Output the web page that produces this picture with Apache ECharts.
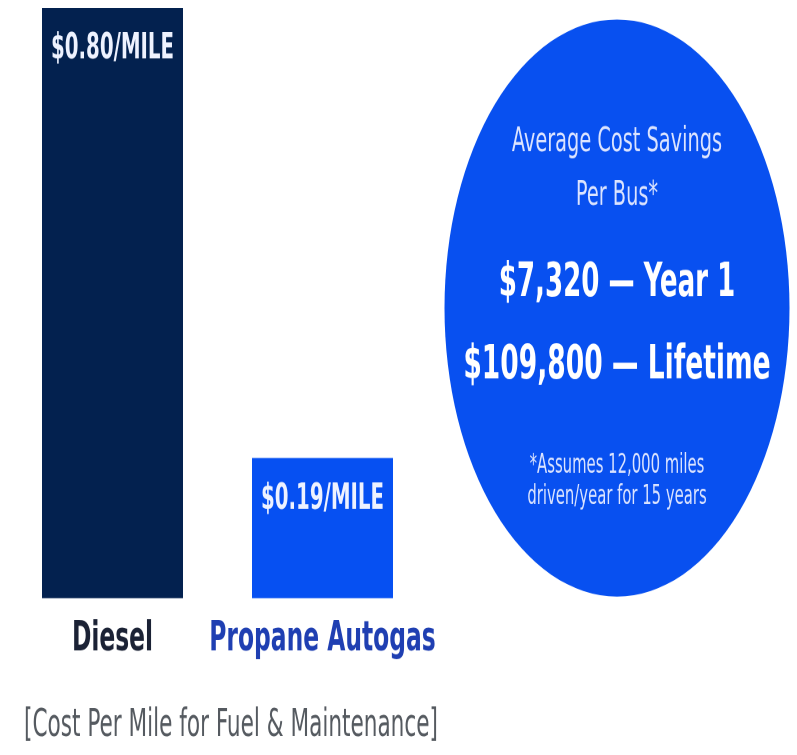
<!DOCTYPE html>
<html>
<head>
<meta charset="utf-8">
<script src="https://cdn.jsdelivr.net/npm/echarts@6/dist/echarts.min.js"></script>
<style>
html,body{margin:0;padding:0;background:#fff;overflow:hidden;}
#stage{width:797px;height:755px;overflow:hidden;}
/* the reference artwork is vertically stretched; draw in a shorter box and stretch it */
#chart{width:797px;height:471.875px;transform:scaleY(1.6);transform-origin:0 0;}
</style>
</head>
<body>
<div id="stage"><div id="chart"></div></div>
<script>
// ---- data ----
const categories = ['Diesel', 'Propane Autogas'];
const costPerMile = [0.80, 0.19];
const barColors = ['#03214f', '#0650f2'];
const categoryColors = ['#1b2235', '#1f3fb2'];
const subtitle = '[Cost Per Mile for Fuel & Maintenance]';
const savingsHeading = ['Average Cost Savings', 'Per Bus*'];
const savingsYear1 = '$7,320 \u2014 Year 1';
const savingsLifetime = '$109,800 \u2014 Lifetime';
const footnote = ['*Assumes 12,000 miles', 'driven/year for 15 years'];

const FONT = '"DejaVu Sans Condensed", "Liberation Sans Narrow", "Roboto", sans-serif';
const S = 1.6; // vertical stretch applied by CSS

const chart = echarts.init(document.getElementById('chart'), null, {renderer: 'canvas', devicePixelRatio: 2});

const circleCX = 617, circleCY = 308 / S, rx = 172.5, ry = 288.5 / S;
const lightText = '#dce4ff';

function txt(str, x, y, font, fill) {
  return {
    type: 'text', x: x, y: y / S, z: 2,
    style: {text: str, fill: fill, font: font, textAlign: 'center', textVerticalAlign: 'middle'}
  };
}

const option = {
  animation: false,
  backgroundColor: '#ffffff',
  grid: {left: 7.5, width: 420, top: 8 / S, bottom: 157 / S, containLabel: false},
  xAxis: {
    type: 'category',
    data: categories.map((c, i) => ({value: c, textStyle: {color: categoryColors[i]}})),
    axisLine: {show: false},
    axisTick: {show: false},
    axisLabel: {
      fontFamily: FONT,
      fontSize: 26,
      lineHeight: 26,
      fontWeight: 'bold',
      margin: 13,
      interval: 0
    }
  },
  yAxis: {
    type: 'value',
    min: 0,
    max: 0.8,
    show: false,
    splitLine: {show: false}
  },
  series: [{
    type: 'bar',
    barWidth: 141,
    data: costPerMile.map((v, i) => ({value: v, itemStyle: {color: barColors[i]}})),
    label: {
      show: true,
      position: 'insideTop',
      distance: 15,
      formatter: p => '$' + p.value.toFixed(2) + '/MILE',
      color: '#eef2ff',
      fontFamily: FONT,
      fontSize: 22,
      fontWeight: 'bold',
      lineHeight: 22
    }
  }],
  graphic: [
    {
      type: 'circle',
      x: circleCX, y: circleCY,
      scaleX: 1, scaleY: ry / rx,
      shape: {cx: 0, cy: 0, r: rx},
      style: {fill: '#0850f0'},
      z: 1
    },
    txt(savingsHeading[0], circleCX, 142, '21.5px ' + FONT, lightText),
    txt(savingsHeading[1], circleCX, 196, '21.5px ' + FONT, lightText),
    txt(savingsYear1, circleCX, 284, 'bold 29px ' + FONT, '#ffffff'),
    txt(savingsLifetime, circleCX, 366, 'bold 29.5px ' + FONT, '#ffffff'),
    txt(footnote[0], circleCX, 466, '16.5px ' + FONT, lightText),
    txt(footnote[1], circleCX, 497, '16.5px ' + FONT, lightText),
    txt(subtitle, 231, 726, '24px ' + FONT, '#555a60')
  ]
};

chart.setOption(option);
</script>
</body>
</html>
